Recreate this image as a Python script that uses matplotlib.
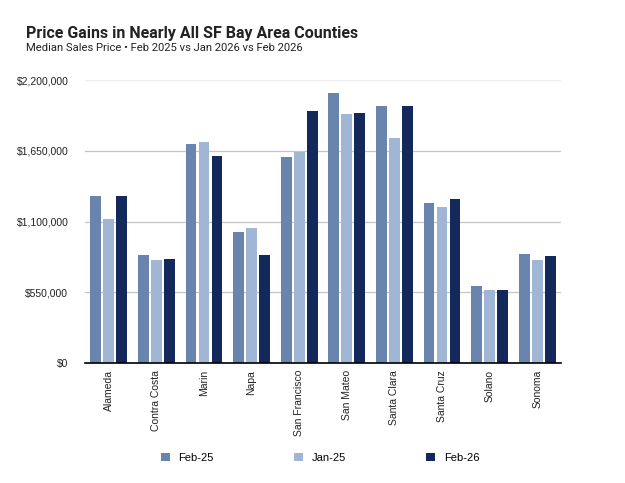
import matplotlib
matplotlib.use("Agg")
import matplotlib.pyplot as plt
from matplotlib import font_manager
import numpy as np

counties = ["Alameda", "Contra Costa", "Marin", "Napa", "San Francisco",
            "San Mateo", "Santa Clara", "Santa Cruz", "Solano", "Sonoma"]
feb25 = [1296000, 839000, 1699000, 1017000, 1598000, 2102000, 2001000, 1242000, 599000, 847000]
jan25 = [1123000, 800000, 1715000, 1048000, 1637000, 1937000, 1746000, 1214000, 568000, 800000]
feb26 = [1296000, 808000, 1606000, 839000, 1960000, 1947000, 2001000, 1273000, 568000, 831000]
series_names = ["Feb-25", "Jan-25", "Feb-26"]
yticks = [0, 550000, 1100000, 1650000, 2200000]

colors = ["#6a85ad", "#a1b5d5", "#14295b"]

plt.rcParams['font.family'] = ['Liberation Sans', 'DejaVu Sans']
names = {f.name for f in font_manager.fontManager.ttflist}
title_font = ['Roboto', 'Liberation Sans'] if 'Roboto' in names else ['Liberation Sans']

fig = plt.figure(figsize=(6.25, 4.83), dpi=100)
ax = fig.add_axes([85/625, 1 - 363/483, 476/625, 283/483])

x = np.arange(len(counties))
step = 0.273
width = 0.23
for i, (vals, name) in enumerate(zip([feb25, jan25, feb26], series_names)):
    ax.bar(x + (i - 1) * step, vals, width, color=colors[i], label=name, zorder=3)

ax.set_xlim(-0.5, 9.5)
ax.set_ylim(0, 2200000)
ax.set_yticks(yticks)
ax.set_yticklabels(["$" + format(v, ",") for v in yticks], fontsize=7.5, color="#222222")
for v in yticks[1:]:
    c = "#ececec" if v == yticks[-1] else "#c4c4c4"
    ax.axhline(v, color=c, lw=0.9, zorder=1)
ax.set_xticks(x)
ax.set_xticklabels(counties, rotation=90, fontsize=7.5, va="top", color="#222222")
ax.tick_params(axis="x", length=0, pad=5)
ax.tick_params(axis="y", length=0, pad=12)
for s in ["top", "right", "left"]:
    ax.spines[s].set_visible(False)
ax.spines["bottom"].set_color("black")
ax.spines["bottom"].set_linewidth(1.2)
ax.spines["bottom"].set_zorder(4)

fig.text(26/625, 1 - 38/483, "Price Gains in Nearly All SF Bay Area Counties",
         fontsize=11.5, fontweight="bold", color="#222222", va="baseline", family=title_font)
fig.text(26/625, 1 - 51/483, "Median Sales Price \u2022 Feb 2025 vs Jan 2026 vs Feb 2026",
         fontsize=8.1, color="#222222", va="baseline", family=title_font)

fig.legend(loc="center", bbox_to_anchor=(320/625, 1 - 458/483), ncol=3, frameon=False,
           fontsize=8, handlelength=0.8, handleheight=0.8, columnspacing=7.2,
           handletextpad=0.8)

fig.savefig("out.png", dpi=100)
